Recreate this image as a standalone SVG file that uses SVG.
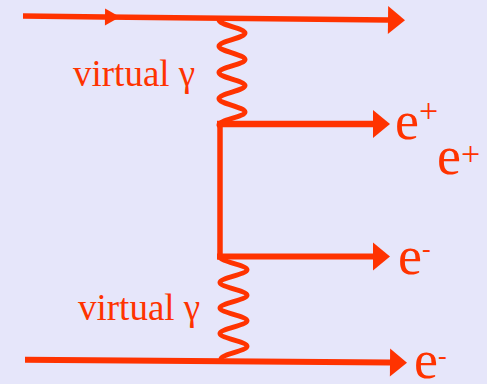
<svg xmlns="http://www.w3.org/2000/svg" width="487" height="384" viewBox="0 0 487 384">
<style>
.ln{fill:none;stroke:#FF3300;stroke-width:5.5}
.wv{fill:none;stroke:#FF3300;stroke-width:5;stroke-linecap:round}
.lbl{font-family:"Liberation Serif","Times New Roman",serif;fill:#FF3300}
.v{font-size:37px}
.e{font-size:54px}
.sup{font-size:34px}
.sub{font-size:26px}
</style>
<defs>
<marker id="ah" markerUnits="userSpaceOnUse" markerWidth="18" markerHeight="29" refX="0" refY="14" orient="auto" overflow="visible">
<path d="M0,0 L17,14 L0,28 z" fill="#FF3300"/>
</marker>
<marker id="am" markerUnits="userSpaceOnUse" markerWidth="16" markerHeight="18" refX="0" refY="8.5" orient="auto" overflow="visible">
<path d="M0,0 L15,8.5 L0,17 z" fill="#FF3300"/>
</marker>
</defs>
<rect width="487" height="384" fill="#E6E6FA"/>
<g id="connectors">
<path id="top-electron" class="ln" d="M23,16 L105,16.9 L388,20" marker-mid="url(#am)" marker-end="url(#ah)"/>
<path id="photon-top" class="wv" d="M219,20 C219,24.8 245,28.3 245,33.1 S219,41.4 219,46.2 S245,54.6 245,59.4 S219,67.7 219,72.5 S245,80.8 245,85.6 S219,93.9 219,98.7 S245,107.1 245,111.9 S219,120.2 219,125"/>
<path id="positron-out" class="ln" style="stroke-width:6.5" d="M217,124 L373,124" marker-end="url(#ah)"/>
<path id="propagator" class="ln" d="M220,121 L220,259.5"/>
<path id="electron-out" class="ln" style="stroke-width:6" d="M217,256.5 L373,256.5" marker-end="url(#ah)"/>
<path id="photon-bottom" class="wv" d="M220,257 C220,261.6 247,265.1 247,269.75 S220,277.9 220,282.5 S247,290.6 247,295.25 S220,303.4 220,308 S247,316.1 247,320.75 S220,328.9 220,333.5 S247,341.6 247,346.25 S221,354.4 221,359"/>
<path id="bottom-electron" class="ln" style="stroke-width:6" d="M25,359.7 L390,362.5" marker-end="url(#ah)"/>
</g>
<g id="label-virtual-top"><text class="lbl v" x="73" y="86">virtual γ</text></g>
<g id="label-virtual-bottom"><text class="lbl v" x="78" y="319.5">virtual γ</text></g>
<g id="label-eplus-1"><text class="lbl e" x="395" y="139">e<tspan class="sup" dy="-17.5">+</tspan></text></g>
<g id="label-eplus-2"><text class="lbl e" x="437" y="174">e<tspan class="sup" dy="-9">+</tspan></text></g>
<g id="label-eminus-1"><text class="lbl e" x="398" y="274">e<tspan class="sub" dy="-17">-</tspan></text></g>
<g id="label-eminus-2"><text class="lbl e" x="414" y="378">e<tspan class="sub" dy="-14">-</tspan></text></g>
</svg>
